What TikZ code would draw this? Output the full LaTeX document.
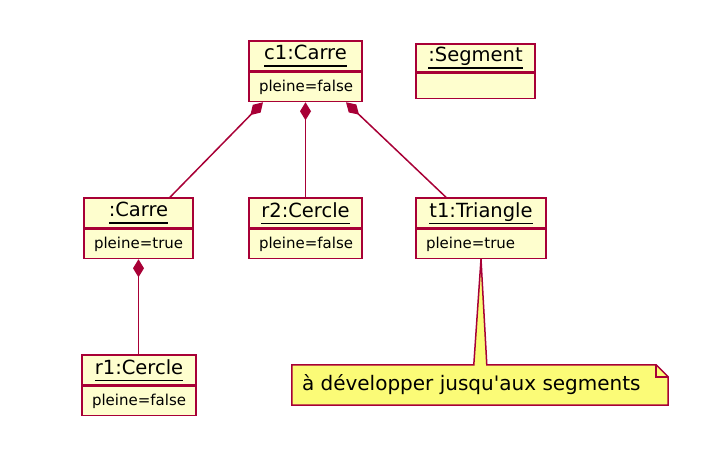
\documentclass[tikz,border=0pt]{standalone}
\usepackage{fontspec}
\setmainfont{DejaVu Sans}
\usetikzlibrary{arrows.meta,calc,backgrounds}

\definecolor{umlred}{HTML}{A80036}
\definecolor{objfill}{HTML}{FEFECE}
\definecolor{notefill}{HTML}{FBFB77}

% underlined object name
\newcommand{\objname}[1]{\vtop{\hbox{#1\vphantom{g}}\kern1.5pt\hrule height 1.2pt}}

\tikzset{
  objtitle/.style={draw=umlred, fill=objfill, line width=1.5pt, inner sep=0pt,
    font=\fontsize{19.5}{23}\selectfont},
  objattr/.style={draw=umlred, fill=objfill, line width=1.5pt, inner xsep=10pt,
    inner ysep=0pt, font=\fontsize{15}{18}\selectfont},
  compo/.style={umlred, line width=1.5pt, {Diamond[length=18pt,width=11pt]}-},
  notetext/.style={inner xsep=10pt, inner ysep=0pt, font=\fontsize{20}{24}\selectfont},
}

\begin{document}
\begin{tikzpicture}[x=1pt, y=-1pt]
  \useasboundingbox (0,0) rectangle (704,450);

  % Object box macro
  % #1=name, #2=x, #3=y of title, #4=width, #5=title, #6=attribute
  \newcommand{\umlobj}[6]{%
    \node[objtitle, minimum width=#4, minimum height=30] (#1) at (#2,#3) {\objname{#5}};
    \node[objattr, minimum width=#4, minimum height=29, anchor=north] (#1a) at (#1.south)
      {\makebox[\dimexpr#4pt-20pt\relax][l]{#6}};
  }

  % Objects
  \umlobj{c1}{305.5}{56}{113}{c1:Carre}{pleine=false}
  \umlobj{car}{138.5}{213}{109}{:Carre}{pleine=true}
  \umlobj{r2}{305.5}{213}{113}{r2:Cercle}{pleine=false}
  \umlobj{t1}{481}{213}{130}{t1:Triangle}{pleine=true}
  \umlobj{r1}{139}{370}{114}{r1:Cercle}{pleine=false}

  % Segment (empty attributes)
  \node[objtitle, minimum width=119, minimum height=28] (seg) at (475.5,58) {\objname{:Segment}};
  \node[objattr, minimum width=119, minimum height=25, anchor=north] (sega) at (seg.south) {};

  % Compositions
  \draw[compo] ([xshift=-42.5pt]c1a.south) -- ([xshift=31.5pt]car.north);
  \draw[compo] (c1a.south) -- (r2.north);
  \draw[compo] ([xshift=40.5pt]c1a.south) -- ([xshift=-35pt]t1.north);
  \draw[compo] (cara.south) -- (cara.south |- r1.north);

  % Note
  \node[notetext, minimum width=376, minimum height=40] (note) at (480,385)
    {\makebox[356pt][l]{à développer jusqu\textquotesingle aux segments}};
  \begin{scope}[on background layer]
    \draw[umlred, fill=notefill, line width=1.5pt, line join=miter]
      (note.north west) -- ++(182,0) -- (t1a.south) -- ($(note.north west)+(195,0)$)
      -- ($(note.north east)+(-12,0)$) -- ($(note.north east)+(0,12)$)
      -- (note.south east) -- (note.south west) -- cycle;
    \draw[umlred, line width=1.5pt]
      ($(note.north east)+(-12,0)$) -- ($(note.north east)+(-12,12)$) -- ($(note.north east)+(0,12)$);
  \end{scope}
\end{tikzpicture}
\end{document}
